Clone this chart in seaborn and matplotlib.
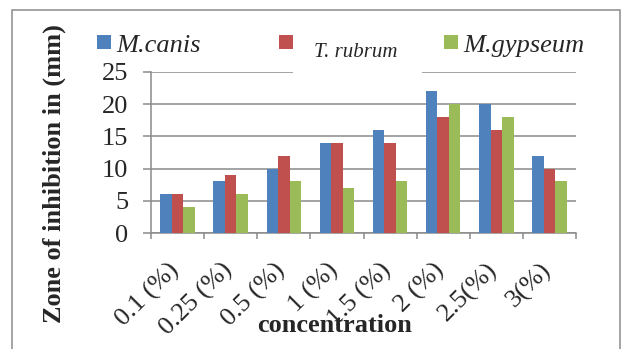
import matplotlib
matplotlib.use("Agg")
import matplotlib.pyplot as plt
from matplotlib.patches import Rectangle
from matplotlib.ticker import FixedLocator
import matplotlib.transforms as mtransforms
import pandas as pd
import seaborn as sns

# Concentrations tested and zone of inhibition (mm) per species
concentrations = ["0.1 (%)", "0.25 (%)", "0.5 (%)", "1 (%)", "1.5 (%)", "2 (%)", "2.5(%)", "3(%)"]
species = ["M.canis", "T. rubrum", "M.gypseum"]
m_canis = [6, 8, 10, 14, 16, 22, 20, 12]
t_rubrum = [6, 9, 12, 14, 14, 18, 16, 10]
m_gypseum = [4, 6, 8, 7, 8, 20, 18, 8]
colors = ["#4F81BD", "#C0504D", "#9BBB59"]
y_ticks = [0, 5, 10, 15, 20, 25]

rows = []
for name, vals in zip(species, [m_canis, t_rubrum, m_gypseum]):
    for c, v in zip(concentrations, vals):
        rows.append({"concentration": c, "zone": v, "species": name})
df = pd.DataFrame(rows)

sns.set_style("white")
plt.rcParams["font.family"] = ["Liberation Serif", "DejaVu Serif"]

W, H = 623, 349
fig = plt.figure(figsize=(W / 100, H / 100), dpi=100)
ax = fig.add_axes([151 / W, 1 - 233 / H, (576 - 151) / W, (233 - 72) / H])

sns.barplot(data=df, x="concentration", y="zone", hue="species",
            order=concentrations, hue_order=species, palette=colors,
            width=0.65, gap=0, saturation=1, legend=False, ax=ax,
            edgecolor="none", linewidth=0, zorder=3)

grid_c = "#8a8a8a"
ax.set_xlim(-0.5, len(concentrations) - 0.5)
ax.set_ylim(0, 25)
ax.set_yticks(y_ticks)
ax.yaxis.grid(True, color=grid_c, linewidth=1.1, zorder=0)
ax.set_axisbelow(True)
for s in ["top", "right"]:
    ax.spines[s].set_visible(False)
for s in ["left", "bottom"]:
    ax.spines[s].set_color(grid_c)
    ax.spines[s].set_linewidth(1.1)

ax.tick_params(axis="y", direction="out", length=5.8, width=1.1, color=grid_c,
               labelsize=19, pad=10.5, left=True)
ax.set_xticks(range(len(concentrations)))
ax.set_xticklabels(concentrations, rotation=45, ha="right", va="top")
ax.xaxis.set_minor_locator(FixedLocator([i - 0.5 for i in range(len(concentrations) + 1)]))
ax.tick_params(axis="x", which="major", length=0, labelsize=19, pad=18.5)
ax.tick_params(axis="x", which="minor", direction="out", length=4.3, width=1.1,
               color=grid_c, bottom=True)
shift = mtransforms.ScaledTranslation(6 / 100, 0, fig.dpi_scale_trans)
for lbl in ax.get_xticklabels():
    lbl.set_transform(lbl.get_transform() + shift)
ax.set_xlabel("")
ax.set_ylabel("")

# Axis titles
fig.text(334.5 / W, 1 - 332 / H, "concentration", ha="center", va="baseline",
         fontsize=19, fontweight="bold")
fig.text(54 / W, 1 - 174 / H, "Zone of inhibition in (mm)", ha="center", va="center",
         rotation=90, fontsize=19, fontweight="bold")

# Legend entries across the top
fig.patches.append(Rectangle((293 / W, 1 - 75 / H), (422 - 293) / W, 15 / H,
                             transform=fig.transFigure, facecolor="white",
                             edgecolor="none", zorder=5))
legend_layout = [
    (97, 35, 116, 52, 19),
    (279, 35, 314, 57, 15),
    (444, 35, 463, 52, 19),
]
for (sx, sy, tx, ty, fs), name, col in zip(legend_layout, species, colors):
    fig.patches.append(Rectangle((sx / W, 1 - (sy + 13.5) / H), 13.5 / W, 13.5 / H,
                                 transform=fig.transFigure, facecolor=col,
                                 edgecolor="none", zorder=6))
    fig.text(tx / W, 1 - ty / H, name, ha="left", va="baseline", fontsize=fs,
             fontstyle="italic", zorder=6)

# Outer frame
fig.patches.append(Rectangle((12 / W, -0.05), (620 - 12) / W, 1 - 10 / H + 0.05,
                             transform=fig.transFigure, facecolor="none",
                             edgecolor="#8c8c8c", linewidth=1.1, zorder=7))

fig.savefig("out.png", dpi=100)
